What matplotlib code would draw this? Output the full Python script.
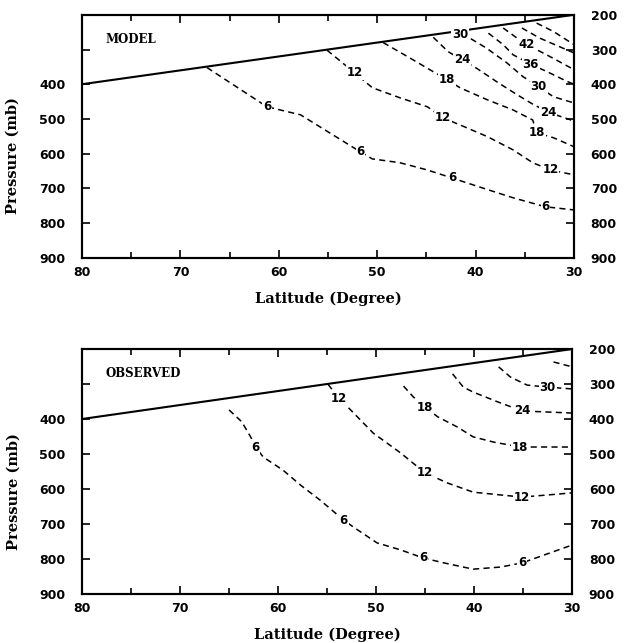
import numpy as np
import matplotlib
matplotlib.use('Agg')
import matplotlib.pyplot as plt
from matplotlib.ticker import MultipleLocator

# tropopause line (latitude, pressure)
trop_lat = [80, 30]
trop_p = [400, 200]

# ---- MODEL panel contours (latitude in degree, pressure in mb)
m06_lat = [67.3, 61.2, 57.8, 51.7, 50.5, 47.7, 44.9, 42.4, 39.6, 36.2, 32.9, 30.0]
m06_p = [352, 465, 488, 595, 615, 626, 647, 670, 696, 727, 753, 762]
m12_lat = [55.1, 52.3, 50.5, 47.7, 44.9, 43.3, 41.6, 38.8, 36.2, 34.2, 32.4, 30.0]
m12_p = [302, 367, 410, 439, 465, 497, 517, 551, 589, 626, 647, 661]
m18_lat = [49.4, 46.7, 44.3, 42.9, 41.6, 38.8, 36.2, 34.2, 33.8, 32.1, 30.0]
m18_p = [280, 324, 364, 387, 410, 445, 474, 503, 540, 554, 580]
m24_lat = [44.3, 42.8, 41.4, 39.9, 37.9, 35.8, 34.1, 32.4, 30.4, 30.0]
m24_p = [265, 306, 330, 354, 392, 430, 459, 483, 502, 511]
m30_lat = [42.5, 41.4, 40.6, 38.9, 36.8, 35.2, 33.6, 32.1, 30.0]
m30_p = [252, 258, 267, 296, 339, 378, 407, 436, 454]
m36_lat = [38.7, 37.2, 36.2, 34.3, 32.8, 30.7, 30.0]
m36_p = [253, 286, 315, 344, 363, 392, 400]
m42_lat = [37.2, 35.8, 34.8, 32.8, 30.0]
m42_p = [238, 267, 286, 315, 358]
m48_lat = [35.3, 33.5, 30.0]
m48_p = [238, 267, 310]
m54_lat = [33.8, 32.1, 30.0]
m54_p = [224, 248, 286]

# latitudes where the contour labels sit
m06_lab = [61.2, 51.7, 42.4, 32.9]
m12_lab = [52.3, 43.3, 32.4]
m18_lab = [42.9, 33.8]
m24_lab = [41.4, 32.6]
m30_lab = [41.6, 33.6]
m36_lab = [34.4]
m42_lab = [34.8]

# ---- OBSERVED panel contours
o06_lat = [65.0, 63.7, 62.8, 62.3, 61.5, 59.5, 57.7, 55.7, 53.3, 52.3, 49.9, 47.5,
           45.2, 43.1, 40.1, 37.3, 35.1, 32.9, 30.0]
o06_p = [374, 408, 451, 480, 509, 546, 589, 632, 689, 709, 754, 774,
         797, 811, 829, 823, 811, 789, 760]
o12_lat = [54.9, 53.8, 52.6, 50.3, 47.5, 45.0, 42.7, 40.1, 37.3, 35.1, 32.5, 30.0]
o12_p = [301, 340, 374, 440, 497, 554, 583, 609, 617, 623, 617, 611]
o18_lat = [47.2, 46.2, 45.0, 43.7, 41.7, 40.1, 38.0, 35.3, 32.5, 30.0]
o18_p = [306, 337, 366, 394, 423, 451, 466, 480, 480, 480]
o24_lat = [42.2, 41.1, 40.1, 37.6, 35.1, 32.5, 30.0]
o24_p = [271, 309, 323, 351, 377, 380, 383]
o30_lat = [37.5, 36.3, 34.6, 32.5, 30.0]
o30_p = [251, 280, 303, 309, 314]
o36_lat = [31.9, 30.0]
o36_p = [237, 251]

o06_lab = [62.3, 53.3, 45.2, 35.1]
o12_lab = [53.8, 45.0, 35.1]
o18_lab = [45.0, 35.3]
o24_lab = [35.1]
o30_lab = [32.5]

p_ticks = [200, 300, 400, 500, 600, 700, 800, 900]
left_labels = ['', '', '400', '500', '600', '700', '800', '900']

model_lines = [
    (6, m06_lat, m06_p, m06_lab), (12, m12_lat, m12_p, m12_lab),
    (18, m18_lat, m18_p, m18_lab), (24, m24_lat, m24_p, m24_lab),
    (30, m30_lat, m30_p, m30_lab), (36, m36_lat, m36_p, m36_lab),
    (42, m42_lat, m42_p, m42_lab), (48, m48_lat, m48_p, []),
    (54, m54_lat, m54_p, []),
]
obs_lines = [
    (6, o06_lat, o06_p, o06_lab), (12, o12_lat, o12_p, o12_lab),
    (18, o18_lat, o18_p, o18_lab), (24, o24_lat, o24_p, o24_lab),
    (30, o30_lat, o30_p, o30_lab), (36, o36_lat, o36_p, []),
]

serif = 'DejaVu Serif'
sans = 'DejaVu Sans'


def draw_panel(ax, lines, title):
    ax.plot(trop_lat, trop_p, color='black', lw=1.5, solid_capstyle='butt')
    for level, lat, p, lab in lines:
        ax.plot(lat, p, color='black', lw=1.1, linestyle=(0, (4, 2.8)))
        for la in lab:
            pp = np.interp(la, lat[::-1], p[::-1])
            ax.text(la, pp, str(level), ha='center', va='center', fontsize=8.5,
                    fontweight='bold', family=sans,
                    bbox=dict(facecolor='white', edgecolor='none', pad=0.6))

    ax.set_xlim(80, 30)
    ax.set_ylim(900, 200)
    ax.xaxis.set_major_locator(MultipleLocator(10))
    ax.xaxis.set_minor_locator(MultipleLocator(5))
    ax.set_yticks(p_ticks)
    ax.set_yticklabels(left_labels)
    ax.tick_params(which='both', direction='in', top=True, right=False, width=1.2)
    ax.tick_params(which='major', length=6)
    ax.tick_params(which='minor', length=4)
    ax.tick_params(axis='x', pad=6)
    ax.tick_params(axis='y', pad=12)
    for lbl in ax.get_xticklabels() + ax.get_yticklabels():
        lbl.set_fontweight('bold')
        lbl.set_fontsize(9)

    # right axis carries every pressure label
    axr = ax.twinx()
    axr.set_ylim(900, 200)
    axr.set_yticks(p_ticks)
    axr.set_yticklabels([str(v) for v in p_ticks])
    axr.tick_params(direction='in', length=6, width=1.2, pad=12)
    for lbl in axr.get_yticklabels():
        lbl.set_fontweight('bold')
        lbl.set_fontsize(9)

    for a in (ax, axr):
        for s in a.spines.values():
            s.set_linewidth(1.5)

    ax.text(77.6, 270, title, ha='left', va='center', fontsize=8.5,
            fontweight='bold', family=serif)
    ax.set_xlabel('Latitude (Degree)', fontsize=10.5, fontweight='bold', family=serif, labelpad=9)
    ax.set_ylabel('Pressure (mb)', fontsize=10.5, fontweight='bold', family=serif)
    ax.yaxis.set_label_coords(-0.126, 0.42)


fig = plt.figure(figsize=(6.26, 6.43), dpi=100)
ax1 = fig.add_axes([0.131, 0.599, 0.786, 0.378])
ax2 = fig.add_axes([0.131, 0.0762, 0.783, 0.381])

draw_panel(ax1, model_lines, 'MODEL')
draw_panel(ax2, obs_lines, 'OBSERVED')

fig.savefig('out.png', dpi=100)
